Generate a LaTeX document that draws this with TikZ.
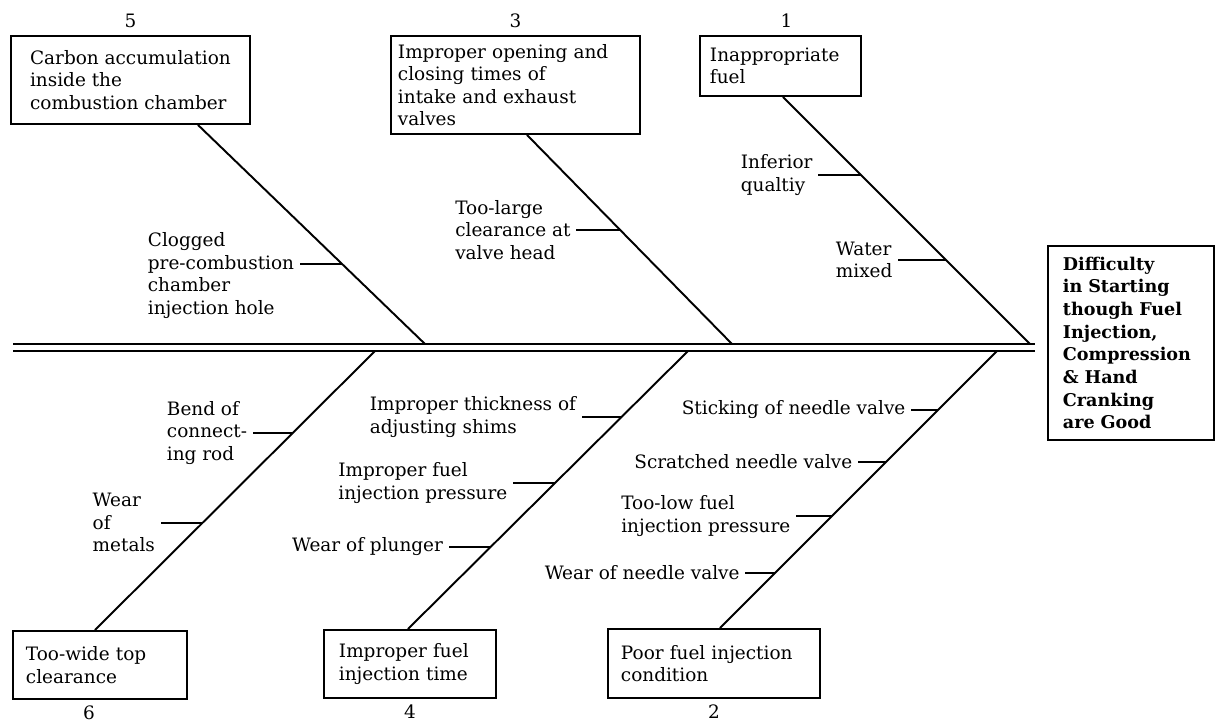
\documentclass[tikz,border=0pt]{standalone}
\usepackage{fontspec}
\setmainfont{DejaVu Serif}
\usetikzlibrary{positioning}

\tikzset{
    causebox/.style={draw, line width=1.1pt, anchor=north west, align=left, inner ysep=0pt,
        font=\fontsize{10.5}{12.8}\selectfont},
    cause/.style={anchor=east, align=left, inner sep=3pt, font=\fontsize{10.5}{12.8}\selectfont},
    bone/.style={line width=1.1pt},
    spine/.style={line width=1.3pt},
    num/.style={inner sep=2pt, font=\fontsize{10.5}{12.8}\selectfont}
}

\begin{document}
\begin{tikzpicture}[x=0.02cm, y=-0.02cm]
    \useasboundingbox (0,0) rectangle (1215,727);

    % Backbone (double line)
    \coordinate (spine top west) at (13,344);
    \coordinate (spine top east) at (1035,344);
    \coordinate (spine bot west) at (13,351);
    \coordinate (spine bot east) at (1035,351);
    \draw[spine] (spine top west) -- (spine top east);
    \draw[spine] (spine bot west) -- (spine bot east);

    % Heads of the main bones on the backbone
    \coordinate (h5) at (425,344);
    \coordinate (h3) at (732,344);
    \coordinate (h1) at (1030,344);
    \coordinate (h6) at (375,351);
    \coordinate (h4) at (688,351);
    \coordinate (h2) at (997,351);

    % Effect
    \node[draw, line width=1.1pt, anchor=north west, minimum width=3.32cm, minimum height=3.88cm,
        text width=2.72cm, inner xsep=0.3cm, align=left, font=\fontsize{10}{12.9}\selectfont\bfseries]
        (Difficulty) at (1047,245) {
    Difficulty\\in Starting\\though Fuel\\Injection,\\Compression\\\& Hand\\Cranking\\are Good
    };

    % Upper causes
    \node[causebox, minimum width=4.78cm, minimum height=1.76cm]
        (Carbon) at (10,35) {Carbon accumulation\\inside the\\combustion chamber};
    \node[causebox, minimum width=4.98cm, minimum height=1.96cm, text width=4.70cm, inner xsep=0.14cm]
        (Valves) at (390,35) {Improper opening and\\closing times of\\intake and exhaust\\valves};
    \node[causebox, minimum width=3.22cm, minimum height=1.2cm, text width=2.82cm, inner xsep=0.2cm]
        (Fuel) at (699,35) {Inappropriate\\fuel};

    % Lower causes
    \node[causebox, minimum width=3.48cm, minimum height=1.36cm, text width=2.96cm, inner xsep=0.26cm]
        (Clearance) at (12,630) {Too-wide top\\clearance};
    \node[causebox, minimum width=3.44cm, minimum height=1.36cm, text width=2.84cm, inner xsep=0.3cm]
        (Timing) at (323,629) {Improper fuel\\injection time};
    \node[causebox, minimum width=4.24cm, minimum height=1.38cm, text width=3.72cm, inner xsep=0.26cm]
        (Injection) at (607,628) {Poor fuel injection\\condition};

    % Numbers
    \node[num, above=2pt of Carbon] {5};
    \node[num, above=2pt of Valves] {3};
    \node[num, above=2pt of Fuel, xshift=0.12cm] {1};
    \node[num, below=1pt of Clearance, xshift=-0.22cm] {6};
    \node[num, below=1pt of Timing] {4};
    \node[num, below=1pt of Injection] {2};

    % Main bones
    \draw[bone] ([xshift=3.76cm]Carbon.south west) -- (h5)
        coordinate[pos=0.633] (t5a);
    \draw[bone] ([xshift=2.74cm]Valves.south west) -- (h3)
        coordinate[pos=0.455] (t3a);
    \draw[bone] ([xshift=1.68cm]Fuel.south west) -- (h1)
        coordinate[pos=0.316] (t1a)
        coordinate[pos=0.66] (t1b);
    \draw[bone] ([xshift=1.66cm]Clearance.north west) -- (h6)
        coordinate[pos=0.706] (t6a)
        coordinate[pos=0.384] (t6b);
    \draw[bone] ([xshift=1.7cm]Timing.north west) -- (h4)
        coordinate[pos=0.763] (t4a)
        coordinate[pos=0.525] (t4b)
        coordinate[pos=0.295] (t4c);
    \draw[bone] ([xshift=2.26cm]Injection.north west) -- (h2)
        coordinate[pos=0.787] (t2a)
        coordinate[pos=0.599] (t2b)
        coordinate[pos=0.404] (t2c)
        coordinate[pos=0.199] (t2d);

    % Sub-causes, upper side
    \node[cause, yshift=-0.24cm] (Clogged) at ([xshift=-0.84cm]t5a) {Clogged\\pre-combustion\\chamber\\injection hole};
    \node[cause] (Too-large) at ([xshift=-0.88cm]t3a) {Too-large\\clearance at\\valve head};
    \node[cause] (Inferior) at ([xshift=-0.86cm]t1a) {Inferior\\qualtiy};
    \node[cause] (Water) at ([xshift=-0.96cm]t1b) {Water\\mixed};

    % Sub-causes, lower side
    \node[cause] (Bend) at ([xshift=-0.8cm]t6a) {Bend of\\connect-\\ing rod};
    \node[cause] (Metals) at ([xshift=-0.84cm]t6b) {Wear\\of\\metals};
    \node[cause] (Shims) at ([xshift=-0.8cm]t4a) {Improper thickness of\\adjusting shims};
    \node[cause] (Pressure) at ([xshift=-0.84cm]t4b) {Improper fuel\\injection pressure};
    \node[cause] (Plunger) at ([xshift=-0.84cm]t4c) {Wear of plunger};
    \node[cause] (Sticking) at ([xshift=-0.54cm]t2a) {Sticking of needle valve};
    \node[cause] (Scratched) at ([xshift=-0.56cm]t2b) {Scratched needle valve};
    \node[cause] (Too-low) at ([xshift=-0.72cm]t2c) {Too-low fuel\\injection pressure};
    \node[cause] (Needle) at ([xshift=-0.6cm]t2d) {Wear of needle valve};

    % Ticks
    \draw[bone] (t5a) -- (t5a -| Clogged.east);
    \draw[bone] (t3a) -- (Too-large.east);
    \draw[bone] (t1a) -- (Inferior.east);
    \draw[bone] (t1b) -- (Water.east);
    \draw[bone] (t6a) -- (Bend.east);
    \draw[bone] (t6b) -- (Metals.east);
    \draw[bone] (t4a) -- (Shims.east);
    \draw[bone] (t4b) -- (Pressure.east);
    \draw[bone] (t4c) -- (Plunger.east);
    \draw[bone] (t2a) -- (Sticking.east);
    \draw[bone] (t2b) -- (Scratched.east);
    \draw[bone] (t2c) -- (Too-low.east);
    \draw[bone] (t2d) -- (Needle.east);

\end{tikzpicture}
\end{document}
